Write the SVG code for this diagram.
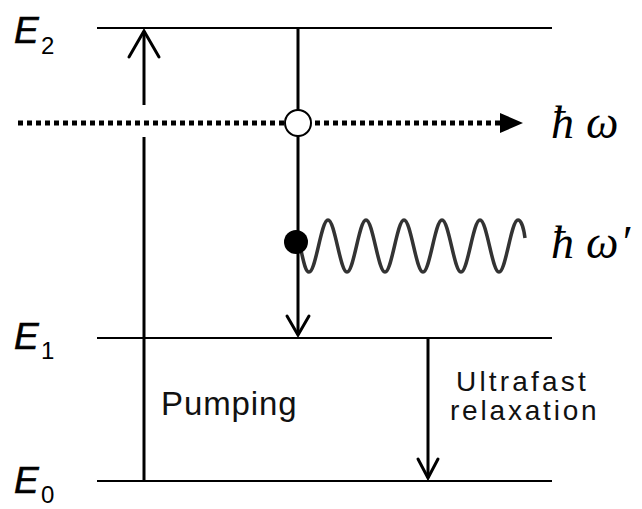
<svg xmlns="http://www.w3.org/2000/svg" width="642" height="509" viewBox="0 0 642 509">
<style>
.lvl{stroke:#000;stroke-width:2;fill:none}
.ln{stroke:#000;stroke-width:3;fill:none}
.ah{stroke:#000;stroke-width:3;fill:none;stroke-linecap:round;stroke-linejoin:miter}
.lab{font-family:"Liberation Sans",Arial,sans-serif;fill:#111}
.E{font-family:"Liberation Sans",Arial,sans-serif;font-style:italic;font-size:37px;fill:#000;stroke:#000;stroke-width:0.6}
.sub{font-family:"Liberation Sans",Arial,sans-serif;font-size:24px;fill:#000}
.ph{font-family:"Liberation Serif","DejaVu Serif",serif;font-style:italic;font-size:46px;fill:#000}
</style>
<rect width="642" height="509" fill="#fff"/>
<g id="level-E2">
<line class="lvl" x1="97" y1="28" x2="552" y2="28"/>
<text class="E" x="14" y="43">E</text><text class="sub" x="41" y="54">2</text>
</g>
<g id="level-E1">
<line class="lvl" x1="97" y1="338" x2="552" y2="338"/>
<text class="E" x="14" y="349">E</text><text class="sub" x="41" y="359">1</text>
</g>
<g id="level-E0">
<line class="lvl" x1="97" y1="481" x2="552" y2="481"/>
<text class="E" x="14" y="493">E</text><text class="sub" x="41" y="503">0</text>
</g>
<g id="connectors">
<line class="ln" x1="144" y1="481" x2="144" y2="137"/>
<line class="ln" x1="144" y1="105" x2="144" y2="31"/>
<polyline class="ah" points="129,57 144,31 159,57"/>
<line x1="18" y1="123" x2="500" y2="123" stroke="#000" stroke-width="5" stroke-dasharray="5 4"/>
<polygon points="500,113 523,123 500,133" fill="#000"/>
<line class="ln" x1="298" y1="28" x2="298" y2="335"/>
<polyline class="ah" points="287,316 298,335 309,316"/>
<path d="M300,246 C303,258 305,272 309,272 C315.9,272 321.1,220 328,220 C334.9,220 340.1,272 347,272 C353.9,272 359.1,220 366,220 C372.9,220 378.1,272 385,272 C391.9,272 397.1,220 404,220 C410.9,220 416.1,272 423,272 C429.9,272 435.1,220 442,220 C448.9,220 454.1,272 461,272 C467.9,272 473.1,220 480,220 C486.9,220 492.1,272 499,272 C505.9,272 511.1,220 518,220 C521.5,220 524,230 525,238" fill="none" stroke="#333" stroke-width="3.5"/>
<line class="ln" x1="428" y1="338" x2="428" y2="478"/>
<polyline class="ah" points="418,459 428,478 438,459"/>
</g>
<g id="virtual-state">
<circle cx="298" cy="123" r="13" fill="#fff" stroke="#000" stroke-width="2"/>
</g>
<g id="excited-state">
<circle cx="296" cy="242" r="12" fill="#000"/>
</g>
<g id="label-hw">
<text class="ph" y="138"><tspan x="551">ħ</tspan><tspan x="586">ω</tspan></text>
</g>
<g id="label-hw-prime">
<text class="ph" y="258"><tspan x="551">ħ</tspan><tspan x="586">ω</tspan><tspan x="620">′</tspan></text>
</g>
<g id="label-pumping">
<text class="lab" x="161" y="415" font-size="33" letter-spacing="0.9">Pumping</text>
</g>
<g id="label-relaxation">
<text class="lab" x="456" y="391" font-size="28" letter-spacing="3.2">Ultrafast</text>
<text class="lab" x="450" y="420" font-size="28" letter-spacing="2.8">relaxation</text>
</g>
</svg>
